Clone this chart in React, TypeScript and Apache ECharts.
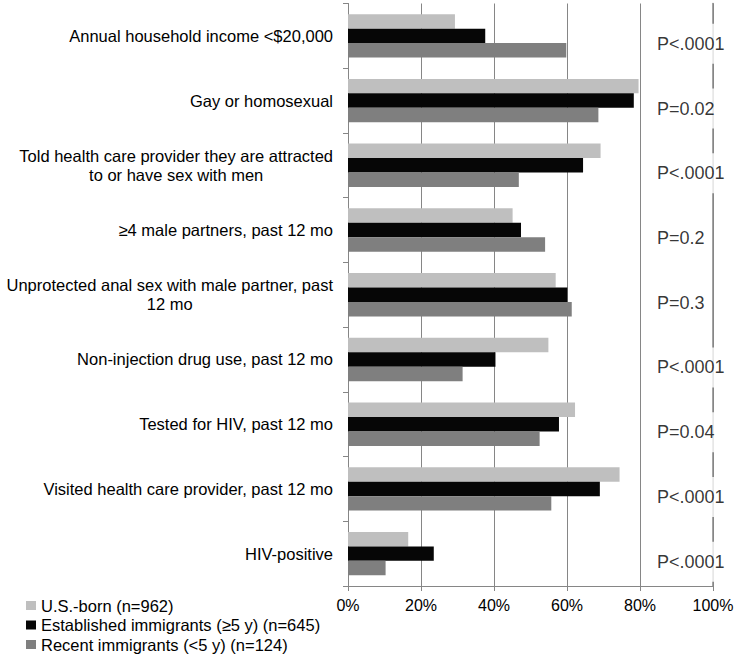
import React, { useEffect, useRef } from "react";
import * as echarts from "echarts";

const categories = [
  "Annual household income <$20,000",
  "Gay or homosexual",
  "Told health care provider they are attracted\nto or have sex with men",
  "≥4 male partners, past 12 mo",
  "Unprotected anal sex with male partner, past\n12 mo",
  "Non-injection drug use, past 12 mo",
  "Tested for HIV, past 12 mo",
  "Visited health care provider, past 12 mo",
  "HIV-positive",
];

const usBorn = [29.3, 79.6, 69.2, 45.1, 56.9, 54.9, 62.2, 74.4, 16.5];
const established = [37.6, 78.3, 64.4, 47.4, 60.1, 40.4, 57.8, 69.0, 23.5];
const recent = [59.8, 68.6, 46.8, 54.0, 61.3, 31.4, 52.5, 55.7, 10.3];
const pValues = ["P<.0001", "P=0.02", "P<.0001", "P=0.2", "P=0.3", "P<.0001", "P=0.04", "P<.0001", "P<.0001"];

const seriesNames = [
  "U.S.-born (n=962)",
  "Established immigrants (≥5 y) (n=645)",
  "Recent immigrants (<5 y) (n=124)",
];
const xTicks = [0, 20, 40, 60, 80, 100];

const FONT = "'Liberation Sans', Arial, sans-serif";
const AXIS_GRAY = "#868686";
const P_LABEL_X = 83.4;

export default function App() {
  const ref = useRef<HTMLDivElement>(null);
  useEffect(() => {
    if (!ref.current) return;
    const chart = echarts.init(ref.current, undefined, { renderer: "svg" });
    const colors = ["#bfbfbf", "#060606", "#7f7f7f"];
    const values = [usBorn, established, recent];
    const bars = values.map((v, i) => ({
      name: seriesNames[i],
      type: "bar",
      data: v,
      barGap: "0%",
      barCategoryGap: "33%",
      itemStyle: { color: colors[i] },
      z: 2,
    }));
    chart.setOption({
      animation: false,
      textStyle: { fontFamily: FONT },
      color: colors,
      grid: { left: 348, right: 24, top: 3.5, bottom: 70 },
      legend: {
        data: seriesNames,
        orient: "vertical",
        left: 26,
        top: 597,
        padding: 0,
        itemWidth: 10,
        itemHeight: 9,
        itemGap: 2.5,
        icon: "rect",
        textStyle: { fontSize: 16.5, color: "#000", lineHeight: 17, fontFamily: FONT },
      },
      xAxis: {
        type: "value",
        min: xTicks[0],
        max: xTicks[xTicks.length - 1],
        interval: 20,
        axisLine: { show: true, lineStyle: { color: AXIS_GRAY, width: 1 } },
        axisTick: { show: true, length: 5, lineStyle: { color: AXIS_GRAY } },
        splitLine: { show: true, showMaxLine: true, lineStyle: { color: AXIS_GRAY, width: 1 } },
        axisLabel: {
          formatter: "{value}%",
          fontSize: 16,
          color: "#000",
          margin: 11,
          fontFamily: FONT,
        },
      },
      yAxis: [
        {
          type: "category",
          data: categories,
          inverse: true,
          axisLine: { show: true, lineStyle: { color: AXIS_GRAY, width: 1 } },
          axisTick: { show: true, length: 5, lineStyle: { color: AXIS_GRAY } },
          axisLabel: {
            margin: 15,
            align: "right",
            formatter: (v: string) =>
              v
                .split("\n")
                .map((l) => `{c|${l}}`)
                .join("\n"),
            rich: {
              c: {
                align: "center",
                fontSize: 16.5,
                lineHeight: 19,
                color: "#000",
                fontFamily: FONT,
              },
            },
          },
        },
        {
          type: "category",
          data: categories,
          inverse: true,
          position: "right",
          axisLine: { show: true, onZero: false, lineStyle: { color: AXIS_GRAY, width: 1.5 } },
          axisTick: { show: false },
          axisLabel: { show: false },
          splitLine: { show: false },
        },
      ],
      series: [
        ...bars,
        {
          type: "scatter",
          symbolSize: 1,
          silent: true,
          itemStyle: { color: "transparent" },
          data: pValues.map((_, i) => [P_LABEL_X, i]),
          label: {
            show: true,
            position: "right",
            distance: 0,
            offset: [0, 8],
            formatter: (p: any) => pValues[p.dataIndex],
            fontSize: 18,
            lineHeight: 20,
            color: "#000",
            fontFamily: FONT,
            backgroundColor: "#ffffff",
            padding: [6, 4, 14, 4],
          },
          z: 5,
        },
      ],
    });
    return () => chart.dispose();
  }, []);
  return (
    <div
      ref={ref}
      style={{ position: "fixed", left: 0, top: 0, width: "737px", height: "656px", background: "#fff" }}
    />
  );
}
